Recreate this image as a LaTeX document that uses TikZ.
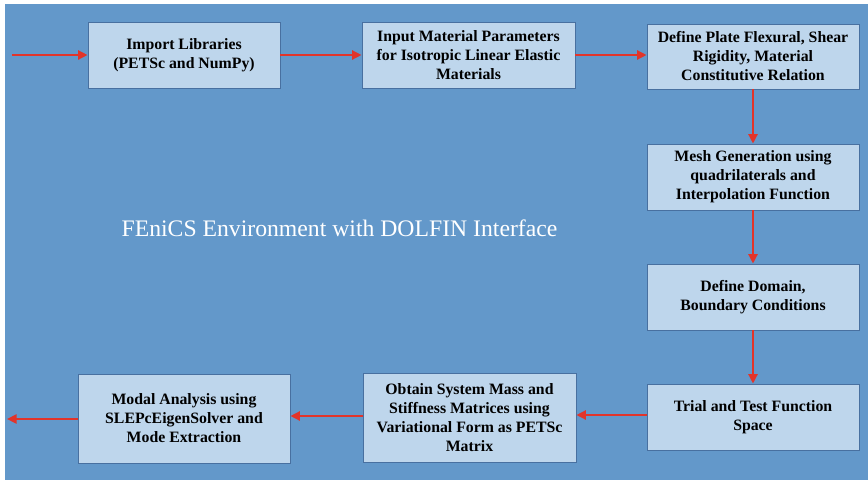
\documentclass[tikz,border=0pt]{standalone}
\usepackage{fontspec}
\setmainfont{Liberation Serif}
\usetikzlibrary{arrows.meta}

\definecolor{envblue}{RGB}{99,152,202}
\definecolor{boxfill}{RGB}{190,214,236}
\definecolor{boxline}{RGB}{72,112,160}
\definecolor{flowred}{RGB}{226,52,42}

\begin{document}
\begin{tikzpicture}[x=1pt, y=-1pt,
    stage/.style={draw=boxline, line width=0.8pt, fill=boxfill, align=center,
      inner sep=0pt, text=black, font=\bfseries\fontsize{15.8}{19}\selectfont},
    flow/.style={draw=flowred, line width=2.3pt, -{Triangle[length=9.5pt,width=9pt]}, flowred}]
  \useasboundingbox (0,0) rectangle (868,480);
  % environment panel
  \fill[envblue] (5,4) rectangle (868,480);
  \node[text=white, anchor=base, font=\fontsize{23.7}{28}\selectfont] (env) at (339.5,236)
    {FEniCS Environment with DOLFIN Interface};

  % top row
  \node[stage, minimum width=192pt, minimum height=66pt] (libs) at (184,55)
    {Import Libraries\\(PETSc and NumPy)};
  \node[stage, minimum width=213pt, minimum height=66pt] (params) at (468.5,55)
    {Input Material Parameters\\for Isotropic Linear Elastic\\Materials};
  \node[stage, minimum width=212pt, minimum height=65pt] (plate) at (753,56.5)
    {Define Plate Flexural, Shear\\Rigidity, Material\\Constitutive Relation};

  % right column
  \node[stage, minimum width=212pt, minimum height=66pt] (mesh) at (753,177)
    {Mesh Generation using\\quadrilaterals and\\Interpolation Function};
  \node[stage, minimum width=212pt, minimum height=66pt] (domain) at (753,297)
    {Define Domain,\\Boundary Conditions};
  \node[stage, minimum width=212pt, minimum height=66pt] (trial) at (753,417)
    {Trial and Test Function\\Space};

  % bottom row
  \node[stage, minimum width=213pt, minimum height=89pt] (system) at (469.5,417.5)
    {Obtain System Mass and\\Stiffness Matrices using\\Variational Form as PETSc\\Matrix};
  \node[stage, minimum width=212pt, minimum height=89pt] (modal) at (184,418.5)
    {Modal Analysis using\\SLEPcEigenSolver and\\Mode Extraction};

  \coordinate (start) at (12,55);
  \coordinate (finish) at (7,419);

  \draw[flow] (start) -- (libs);
  \draw[flow] (libs) -- (params);
  \draw[flow] (params.east) -- (params.east -| plate.west);
  \draw[flow] (plate) -- (mesh);
  \draw[flow] (mesh) -- (domain);
  \draw[flow] (domain) -- (trial);
  \draw[flow] ([yshift=2pt]trial.west) -- ([yshift=2pt]trial.west -| system.east);
  \draw[flow] ([yshift=1.5pt]system.west) -- ([yshift=1.5pt]system.west -| modal.east);
  \draw[flow] (modal.west |- finish) -- (finish);
\end{tikzpicture}
\end{document}
